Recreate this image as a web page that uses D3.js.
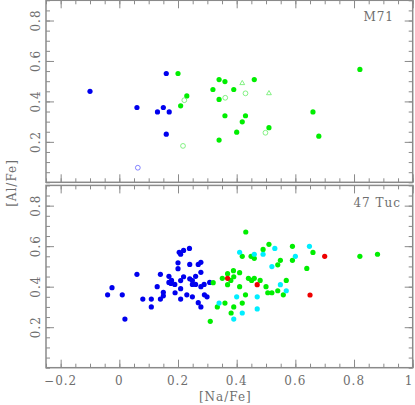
<!DOCTYPE html>
<html><head><meta charset="utf-8">
<script src="https://cdn.jsdelivr.net/npm/d3@7"></script>
<style>body{margin:0;background:#fff}</style>
</head><body><svg id="c" width="415" height="405"></svg>
<script>
// ---- data: [Na/Fe], [Al/Fe] ----
const m71BlueFilled = [[-0.10,0.45],[0.16,0.538],[0.06,0.37],[0.13,0.348],[0.15,0.37],[0.17,0.348],[0.16,0.238]];
const m71BlueOpen = [[0.063,0.072]];
const m71GreenFilled = [[0.20,0.538],[0.23,0.427],[0.209,0.378],[0.319,0.459],[0.34,0.508],[0.36,0.498],[0.39,0.459],[0.46,0.508],[0.34,0.41],[0.36,0.329],[0.43,0.329],[0.419,0.299],[0.40,0.248],[0.34,0.209],[0.51,0.27],[0.66,0.348],[0.68,0.228],[0.82,0.558]];
const m71GreenOpen = [[0.2215,0.406],[0.361,0.418],[0.43,0.44],[0.217,0.18],[0.498,0.245]];
const m71GreenTri = [[0.419,0.49],[0.51,0.44]];

const tucBlue = [[-0.04,0.36],[-0.025,0.395],[0.01,0.36],[0.019,0.24],[0.06,0.461],[0.08,0.339],[0.109,0.339],[0.109,0.30],[0.129,0.40],[0.14,0.461],[0.14,0.339],[0.15,0.372],[0.15,0.355],[0.169,0.451],[0.169,0.421],[0.178,0.431],[0.176,0.416],[0.189,0.411],[0.19,0.37],[0.20,0.518],[0.20,0.489],[0.204,0.57],[0.209,0.56],[0.219,0.579],[0.239,0.589],[0.209,0.43],[0.209,0.39],[0.209,0.339],[0.219,0.449],[0.23,0.36],[0.24,0.51],[0.24,0.439],[0.249,0.43],[0.249,0.411],[0.26,0.451],[0.26,0.411],[0.249,0.35],[0.269,0.51],[0.278,0.52],[0.278,0.471],[0.278,0.40],[0.289,0.411],[0.29,0.36],[0.299,0.35],[0.269,0.321],[0.278,0.30],[0.308,0.421]];
const tucGreen = [[0.431,0.67],[0.51,0.609],[0.49,0.584],[0.59,0.599],[0.419,0.55],[0.449,0.55],[0.46,0.54],[0.66,0.569],[0.82,0.55],[0.88,0.56],[0.549,0.53],[0.54,0.508],[0.59,0.53],[0.639,0.49],[0.41,0.469],[0.389,0.479],[0.39,0.449],[0.369,0.464],[0.38,0.431],[0.351,0.441],[0.32,0.42],[0.369,0.41],[0.44,0.441],[0.451,0.431],[0.46,0.441],[0.48,0.431],[0.41,0.40],[0.50,0.40],[0.506,0.37],[0.52,0.37],[0.54,0.38],[0.559,0.36],[0.569,0.431],[0.43,0.36],[0.36,0.319],[0.334,0.30],[0.39,0.30],[0.419,0.319],[0.381,0.27],[0.31,0.229]];
const tucCyan = [[0.41,0.57],[0.46,0.56],[0.49,0.56],[0.53,0.589],[0.648,0.599],[0.60,0.55],[0.52,0.499],[0.549,0.41],[0.569,0.38],[0.40,0.35],[0.47,0.35],[0.34,0.319],[0.47,0.29],[0.419,0.27],[0.39,0.24]];
const tucRed = [[0.369,0.441],[0.47,0.41],[0.70,0.55],[0.65,0.359]];

const xMajor = [-0.2,0,0.2,0.4,0.6,0.8,1];
const yMajor = [0.2,0.4,0.6,0.8];
const xMinor = d3.range(-25,101,5).map(v=>v/100);
const yMinor = d3.range(0,91,5).map(v=>v/100);
const panelLabels = ["M71","47 Tuc"];
const xTitle = "[Na/Fe]", yTitle = "[Al/Fe]";

// ---- drawing ----
const svg = d3.select("#c");
const L = 46, R = 412.7;
const x = d3.scaleLinear([-0.25,1.0],[L,R]);
const yTop = d3.scaleLinear([0,0.9],[182.3,0.3]);
const yBot = d3.scaleLinear([0,0.9],[367.7,185.4]);
const axisCol = "#8a8a8a", textCol = "#6e6e6e";
const fmt = d3.format("~g");
const font = "'DejaVu Serif', serif";

function frame(y){
  const [b,t] = y.range();
  const g = svg.append("g");
  const add = (axis, tr) => {
    const a = g.append("g").attr("transform", tr).call(axis);
    a.select(".domain").remove();
    a.selectAll("text").remove();
    a.selectAll("line").attr("stroke", axisCol).attr("stroke-width",1);
  };
  add(d3.axisBottom(x).tickValues(xMinor).tickSize(-4), `translate(0,${b})`);
  add(d3.axisBottom(x).tickValues(xMajor).tickSize(-8), `translate(0,${b})`);
  add(d3.axisTop(x).tickValues(xMinor).tickSize(-4), `translate(0,${t})`);
  add(d3.axisTop(x).tickValues(xMajor).tickSize(-8), `translate(0,${t})`);
  add(d3.axisLeft(y).tickValues(yMinor).tickSize(-4), `translate(${L},0)`);
  add(d3.axisLeft(y).tickValues(yMajor).tickSize(-8), `translate(${L},0)`);
  add(d3.axisRight(y).tickValues(yMinor).tickSize(-4), `translate(${R},0)`);
  add(d3.axisRight(y).tickValues(yMajor).tickSize(-8), `translate(${R},0)`);
  g.append("rect").attr("x",L).attr("y",t).attr("width",R-L).attr("height",b-t)
    .attr("fill","none").attr("stroke",axisCol).attr("stroke-width",1.5);
  g.selectAll("text.yl").data(yMajor).join("text")
    .attr("transform", d=>`translate(40,${y(d)}) rotate(-90)`)
    .attr("text-anchor","middle").attr("font-family",font).attr("font-size",12)
    .attr("letter-spacing",1).attr("fill",textCol).text(fmt);
}
frame(yTop); frame(yBot);

// x tick labels bottom (last one nudged so it stays inside the window)
svg.selectAll("text.xl").data(xMajor).join("text")
  .attr("x", d=>Math.min(x(d), 409)).attr("y",385).attr("text-anchor","middle")
  .attr("font-family",font).attr("font-size",12).attr("letter-spacing",1)
  .attr("fill",textCol).text(fmt);
svg.append("text").attr("x",(L+R)/2-4).attr("y",401).attr("text-anchor","middle")
  .attr("font-family",font).attr("font-size",12).attr("letter-spacing",1).attr("fill",textCol).text(xTitle);
svg.append("text").attr("transform","translate(16,183) rotate(-90)").attr("text-anchor","middle")
  .attr("font-family",font).attr("font-size",12).attr("letter-spacing",1).attr("fill",textCol).text(yTitle);
svg.append("text").attr("x",394).attr("y",21).attr("text-anchor","end")
  .attr("font-family",font).attr("font-size",12).attr("letter-spacing",1).attr("fill",textCol).text(panelLabels[0]);
svg.append("text").attr("x",401).attr("y",207).attr("text-anchor","end")
  .attr("font-family",font).attr("font-size",12).attr("letter-spacing",1).attr("fill",textCol).text(panelLabels[1]);

function dots(data, y, col){
  svg.append("g").selectAll("circle").data(data).join("circle")
    .attr("cx",d=>x(d[0])).attr("cy",d=>y(d[1])).attr("r",2.6).attr("fill",col);
}
function rings(data, y, col){
  svg.append("g").selectAll("circle").data(data).join("circle")
    .attr("cx",d=>x(d[0])).attr("cy",d=>y(d[1])).attr("r",2.4)
    .attr("fill","none").attr("stroke",col).attr("stroke-width",0.8);
}
function tris(data, y, col){
  const sym = d3.symbol(d3.symbolTriangle, 10);
  svg.append("g").selectAll("path").data(data).join("path")
    .attr("transform",d=>`translate(${x(d[0])},${y(d[1])})`).attr("d",sym)
    .attr("fill","none").attr("stroke",col).attr("stroke-width",0.8);
}
const blue="#0000ee", green="#00ee00", cyan="#00eeff", red="#ee0000";
dots(m71BlueFilled, yTop, blue);
rings(m71BlueOpen, yTop, "#6666ff");
dots(m71GreenFilled, yTop, green);
rings(m71GreenOpen, yTop, "#66ee66");
tris(m71GreenTri, yTop, "#66ee66");

dots(tucBlue, yBot, blue);
dots(tucGreen, yBot, green);
dots(tucCyan, yBot, cyan);
dots(tucRed, yBot, red);
</script></body></html>
